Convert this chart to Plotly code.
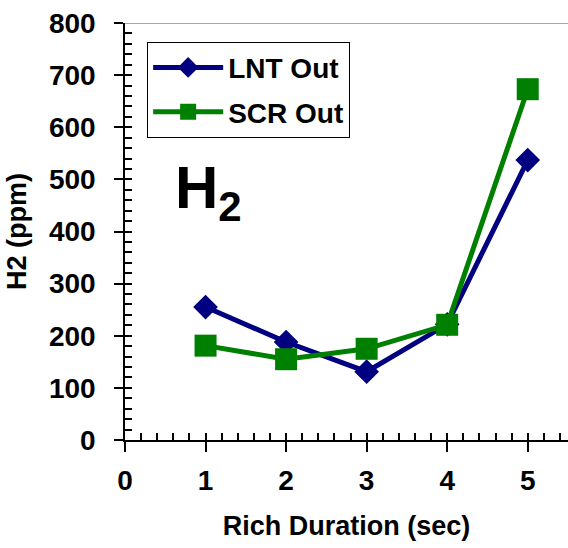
import plotly.graph_objects as go

x_vals = [1, 2, 3, 4, 5]
lnt_out = [255, 188, 131, 222, 537]
scr_out = [181, 155, 175, 221, 673]
x_ticks = [0, 1, 2, 3, 4, 5]
y_ticks = [0, 100, 200, 300, 400, 500, 600, 700, 800]

FONT = "Arial, Liberation Sans, sans-serif"

fig = go.Figure()
fig.add_trace(go.Scatter(x=x_vals, y=lnt_out, name="LNT Out", mode="lines+markers",
                         legendgroup="a",
                         line=dict(color="#000080", width=5),
                         marker=dict(symbol="diamond", size=19, color="#000080")))
fig.add_trace(go.Scatter(x=x_vals, y=scr_out, name="SCR Out", mode="lines+markers",
                         legendgroup="b",
                         line=dict(color="#008000", width=5),
                         marker=dict(symbol="square", size=22, color="#008000")))
# invisible trace to activate overlay axes for inside minor ticks
fig.add_trace(go.Scatter(x=[0], y=[0], xaxis="x2", yaxis="y2", mode="markers",
                         marker=dict(opacity=0), showlegend=False, hoverinfo="skip"))

fig.update_layout(
    width=568, height=548,
    margin=dict(l=125, r=0, t=23, b=108),
    paper_bgcolor="white", plot_bgcolor="white",
    font=dict(family=FONT, size=22, color="black"),
    showlegend=True,
    legend=dict(x=0.05, y=0.955, xanchor="left", yanchor="top",
                bordercolor="black", borderwidth=1, bgcolor="white",
                font=dict(family=FONT, size=28, color="black", weight="bold"),
                itemwidth=70, tracegroupgap=5),
    xaxis=dict(range=[0, 5.5], tickvals=x_ticks, ticks="outside", ticklen=10,
               tickwidth=1.5, tickcolor="black", showline=True, linecolor="black",
               linewidth=1.5, showgrid=False, zeroline=False,
               tickfont=dict(family=FONT, size=28, weight="bold"),
               ticklabelstandoff=5,
               title=dict(text="Rich Duration (sec)", standoff=21,
                          font=dict(family=FONT, size=27, weight="bold"))),
    yaxis=dict(range=[0, 800], tickvals=y_ticks, ticks="outside", ticklen=9,
               tickwidth=1.5, tickcolor="black", showline=True, linecolor="black",
               linewidth=1.5, showgrid=False, zeroline=False,
               tickfont=dict(family=FONT, size=28, weight="bold"),
               ticklabelstandoff=13,
               title=dict(text="H2 (ppm)", standoff=14,
                          font=dict(family=FONT, size=27, weight="bold"))),
    xaxis2=dict(overlaying="x", range=[0, 5.5], dtick=0.2, tick0=0, ticks="inside",
                ticklen=7, tickwidth=1.5, tickcolor="black", showticklabels=False,
                showgrid=False, zeroline=False, showline=False, side="bottom"),
    yaxis2=dict(overlaying="y", range=[0, 800], dtick=20, tick0=0, ticks="inside",
                ticklen=7, tickwidth=1.5, tickcolor="black", showticklabels=False,
                showgrid=False, zeroline=False, showline=False, side="left",
                anchor="x2"),
    shapes=[dict(type="line", xref="paper", yref="y", x0=0, x1=1, y0=800, y1=800,
                 line=dict(color="#888888", width=1.5))],
    annotations=[dict(text="H<sub>2</sub>", x=0.6, y=475, xref="x", yref="y",
                      xanchor="left", yanchor="middle", showarrow=False,
                      font=dict(family=FONT, size=60, weight="bold", color="black"))],
)

fig.write_html("out.html")
